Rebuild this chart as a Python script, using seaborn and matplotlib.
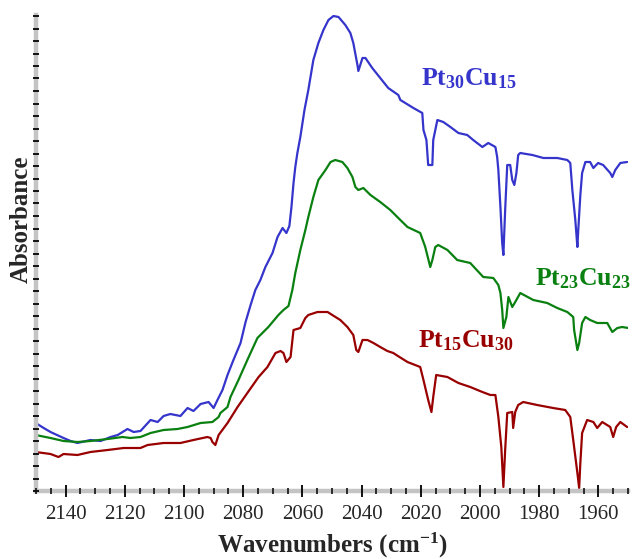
import matplotlib
matplotlib.use("Agg")
import matplotlib.pyplot as plt
from matplotlib.ticker import MultipleLocator, NullFormatter
import numpy as np
import pandas as pd
import seaborn as sns

# --- IR spectra of adsorbed CO on PtCu samples -------------------------------
wn_pt30cu15 = [2150.1, 2147.4, 2145.1, 2140.7, 2138.3, 2136.0, 2131.6, 2128.2, 2124.8, 2122.4,
               2119.1, 2117.0, 2114.7, 2111.3, 2108.9, 2106.9, 2104.6, 2101.2, 2098.8, 2096.8,
               2094.4, 2091.7, 2090.0, 2088.7, 2087.0, 2085.3, 2083.3, 2080.9, 2079.2, 2077.5,
               2075.9, 2074.2, 2072.5, 2070.1, 2068.4, 2066.7, 2065.4, 2064.4, 2063.7, 2063.0,
               2062.4, 2061.7, 2060.7, 2059.3, 2058.0, 2056.3, 2054.6, 2052.9, 2051.2, 2049.5,
               2047.8, 2045.5, 2043.8, 2042.8, 2041.4, 2041.1, 2039.7, 2038.7, 2036.4, 2033.7,
               2031.0, 2027.6, 2026.9, 2022.5, 2019.5, 2019.1, 2018.1, 2017.5, 2016.1, 2015.8,
               2014.4, 2012.4, 2010.0, 2007.3, 2004.3, 2002.3, 1999.2, 1997.2, 1994.8, 1994.2,
               1993.8, 1993.1, 1992.5, 1992.1, 1991.5, 1990.8, 1989.8, 1989.1, 1988.4, 1987.7,
               1987.1, 1986.4, 1982.3, 1978.6, 1973.9, 1970.5, 1969.5, 1968.8, 1967.8, 1967.1,
               1966.8, 1966.1, 1965.5, 1964.4, 1962.8, 1961.7, 1960.1, 1958.4, 1956.0, 1955.3,
               1954.3, 1952.6, 1950.3]
abs_pt30cu15 = [0.136, 0.126, 0.118, 0.106, 0.100, 0.096, 0.102, 0.100, 0.108, 0.112,
                0.124, 0.118, 0.120, 0.142, 0.138, 0.150, 0.154, 0.150, 0.166, 0.160,
                0.174, 0.178, 0.166, 0.182, 0.202, 0.232, 0.262, 0.296, 0.338, 0.372,
                0.402, 0.422, 0.448, 0.476, 0.508, 0.526, 0.516, 0.530, 0.568, 0.616,
                0.648, 0.676, 0.708, 0.762, 0.802, 0.862, 0.896, 0.922, 0.942, 0.950,
                0.948, 0.932, 0.916, 0.896, 0.852, 0.840, 0.866, 0.866, 0.846, 0.826,
                0.806, 0.792, 0.782, 0.766, 0.756, 0.722, 0.702, 0.652, 0.652, 0.702,
                0.742, 0.738, 0.728, 0.716, 0.712, 0.702, 0.688, 0.696, 0.688, 0.668,
                0.642, 0.568, 0.496, 0.472, 0.562, 0.652, 0.652, 0.622, 0.612, 0.636,
                0.672, 0.676, 0.672, 0.666, 0.666, 0.662, 0.656, 0.602, 0.542, 0.488,
                0.522, 0.592, 0.636, 0.658, 0.658, 0.646, 0.656, 0.652, 0.636, 0.628,
                0.642, 0.656, 0.658]

wn_pt23cu23 = [2150.1, 2145.1, 2140.7, 2136.0, 2131.6, 2125.8, 2120.8, 2118.1, 2114.7, 2111.3,
               2106.9, 2102.2, 2098.8, 2094.4, 2090.4, 2088.3, 2087.7, 2085.3, 2084.3, 2081.6,
               2078.6, 2075.2, 2071.5, 2068.1, 2066.4, 2064.7, 2063.4, 2062.4, 2060.7, 2059.0,
               2058.0, 2056.3, 2054.6, 2052.2, 2050.5, 2048.9, 2046.5, 2044.8, 2043.1, 2042.1,
               2041.1, 2039.4, 2037.0, 2033.7, 2030.3, 2027.6, 2024.5, 2020.2, 2018.5, 2016.8,
               2016.1, 2015.1, 2014.1, 2011.0, 2007.7, 2003.3, 1998.9, 1995.5, 1993.8, 1993.1,
               1992.5, 1992.1, 1991.1, 1990.4, 1989.1, 1988.1, 1986.4, 1982.0, 1977.3, 1973.9,
               1970.5, 1968.5, 1968.2, 1967.1, 1966.5, 1965.5, 1964.4, 1962.8, 1960.4, 1957.0,
               1955.3, 1953.6, 1952.0, 1949.9]
abs_pt23cu23 = [0.112, 0.106, 0.100, 0.098, 0.100, 0.104, 0.108, 0.106, 0.108, 0.116,
                0.122, 0.124, 0.128, 0.136, 0.138, 0.148, 0.156, 0.168, 0.188, 0.222,
                0.262, 0.306, 0.328, 0.352, 0.362, 0.370, 0.402, 0.436, 0.482, 0.522,
                0.548, 0.588, 0.622, 0.642, 0.658, 0.662, 0.658, 0.646, 0.628, 0.608,
                0.602, 0.606, 0.592, 0.578, 0.562, 0.546, 0.528, 0.516, 0.488, 0.448,
                0.462, 0.488, 0.492, 0.482, 0.462, 0.456, 0.428, 0.426, 0.412, 0.396,
                0.362, 0.326, 0.348, 0.388, 0.368, 0.378, 0.396, 0.382, 0.376, 0.366,
                0.358, 0.348, 0.322, 0.282, 0.296, 0.336, 0.348, 0.342, 0.336, 0.336,
                0.318, 0.326, 0.328, 0.326]

wn_pt15cu30 = [2150.1, 2145.1, 2142.4, 2140.7, 2136.0, 2131.6, 2125.8, 2120.4, 2114.7, 2112.3,
               2106.9, 2101.2, 2096.8, 2092.1, 2091.0, 2090.4, 2089.4, 2088.3, 2085.3, 2081.9,
               2078.6, 2074.8, 2071.8, 2069.1, 2067.4, 2066.4, 2065.4, 2064.0, 2063.0, 2060.7,
               2059.0, 2058.0, 2054.9, 2051.5, 2049.9, 2047.2, 2044.8, 2042.8, 2041.8, 2041.1,
               2039.7, 2038.0, 2036.0, 2033.7, 2031.3, 2029.3, 2027.2, 2024.5, 2020.2, 2019.1,
               2017.5, 2016.4, 2015.8, 2014.8, 2011.0, 2007.3, 2003.3, 1999.2, 1996.5, 1994.8,
               1993.8, 1992.8, 1992.1, 1991.5, 1990.8, 1989.1, 1988.8, 1988.1, 1987.1, 1985.4,
               1980.7, 1975.3, 1971.2, 1969.5, 1968.5, 1967.1, 1966.5, 1966.1, 1965.5, 1963.8,
               1961.7, 1960.4, 1958.7, 1956.0, 1955.0, 1954.0, 1952.6, 1950.3]
abs_pt15cu30 = [0.078, 0.074, 0.068, 0.074, 0.072, 0.078, 0.082, 0.086, 0.086, 0.092,
                0.096, 0.096, 0.102, 0.108, 0.106, 0.098, 0.092, 0.112, 0.136, 0.168,
                0.196, 0.228, 0.248, 0.276, 0.280, 0.276, 0.258, 0.268, 0.322, 0.326,
                0.346, 0.352, 0.358, 0.358, 0.352, 0.342, 0.328, 0.312, 0.282, 0.278,
                0.302, 0.302, 0.296, 0.288, 0.280, 0.276, 0.268, 0.258, 0.248, 0.222,
                0.182, 0.158, 0.188, 0.232, 0.228, 0.216, 0.208, 0.198, 0.192, 0.192,
                0.148, 0.088, 0.008, 0.082, 0.156, 0.158, 0.126, 0.158, 0.172, 0.178,
                0.172, 0.166, 0.162, 0.148, 0.102, 0.036, 0.006, 0.056, 0.116, 0.142,
                0.138, 0.126, 0.138, 0.128, 0.108, 0.128, 0.138, 0.128]

samples = ["Pt30Cu15", "Pt23Cu23", "Pt15Cu30"]
sample_labels = ["Pt$_{30}$Cu$_{15}$", "Pt$_{23}$Cu$_{23}$", "Pt$_{15}$Cu$_{30}$"]
sample_colors = ["#3535CC", "#0A8010", "#990000"]
# label anchor (wavenumber, absorbance) for each curve
label_wn = [2020.0, 1981.5, 2021.0]
label_abs = [0.812, 0.412, 0.288]

x_ticks = [2140, 2120, 2100, 2080, 2060, 2040, 2020, 2000, 1980, 1960]

frames = []
for name, wn, ab in zip(samples, [wn_pt30cu15, wn_pt23cu23, wn_pt15cu30],
                        [abs_pt30cu15, abs_pt23cu23, abs_pt15cu30]):
    frames.append(pd.DataFrame({"wn": wn, "absorbance": ab, "sample": name}))
df = pd.concat(frames, ignore_index=True)

sns.set_theme(style="white")
serif = ["Liberation Serif", "DejaVu Serif"]
plt.rcParams["font.family"] = serif
plt.rcParams["mathtext.fontset"] = "custom"
plt.rcParams["mathtext.rm"] = "Liberation Serif:bold"
plt.rcParams["mathtext.it"] = "Liberation Serif:bold"
plt.rcParams["mathtext.bf"] = "Liberation Serif:bold"
plt.rcParams["mathtext.default"] = "rm"

fig = plt.figure(figsize=(6.33, 5.59), dpi=100)
ax = fig.add_axes([36 / 633, 68 / 559, 592 / 633, 476 / 559])

sns.lineplot(data=df, x="wn", y="absorbance", hue="sample", hue_order=samples,
             palette=sample_colors, linewidth=1.6, legend=False, ax=ax,
             estimator=None, sort=False)

for lab, col, lx, ly in zip(sample_labels, sample_colors, label_wn, label_abs):
    ax.text(lx, ly, lab, color=col, fontsize=18.5, fontweight="bold",
            ha="left", va="baseline")

ax.set_xlim(2150, 1950)
ax.set_ylim(0, 0.952)

ax.xaxis.set_major_locator(MultipleLocator(20))
ax.xaxis.set_minor_locator(MultipleLocator(5))
ax.set_xticks(x_ticks)
ax.set_xticklabels([str(t) for t in x_ticks])
ax.yaxis.set_major_locator(MultipleLocator(0.025))
ax.yaxis.set_major_formatter(NullFormatter())

for side in ["top", "right"]:
    ax.spines[side].set_visible(False)
for side in ["left", "bottom"]:
    ax.spines[side].set_color("#c4c4c4")
    ax.spines[side].set_linewidth(3.2)

ax.tick_params(axis="x", which="major", direction="inout", length=8, width=1.4,
               color="#111111", labelsize=15, pad=6, bottom=True)
ax.tick_params(axis="x", which="minor", direction="inout", length=4, width=1.2,
               color="#111111", bottom=True)
ax.tick_params(axis="y", which="major", direction="inout", length=5, width=1.4,
               color="#111111", left=True)
ax.set_axisbelow(False)

ax.set_xlabel("Wavenumbers (cm$^{-1}$)", fontsize=18, fontweight="bold", labelpad=5)
ax.set_ylabel("Absorbance", fontsize=18, fontweight="bold")
ax.yaxis.set_label_coords(-0.006, 0.57)

fig.savefig("out.png", dpi=100)
